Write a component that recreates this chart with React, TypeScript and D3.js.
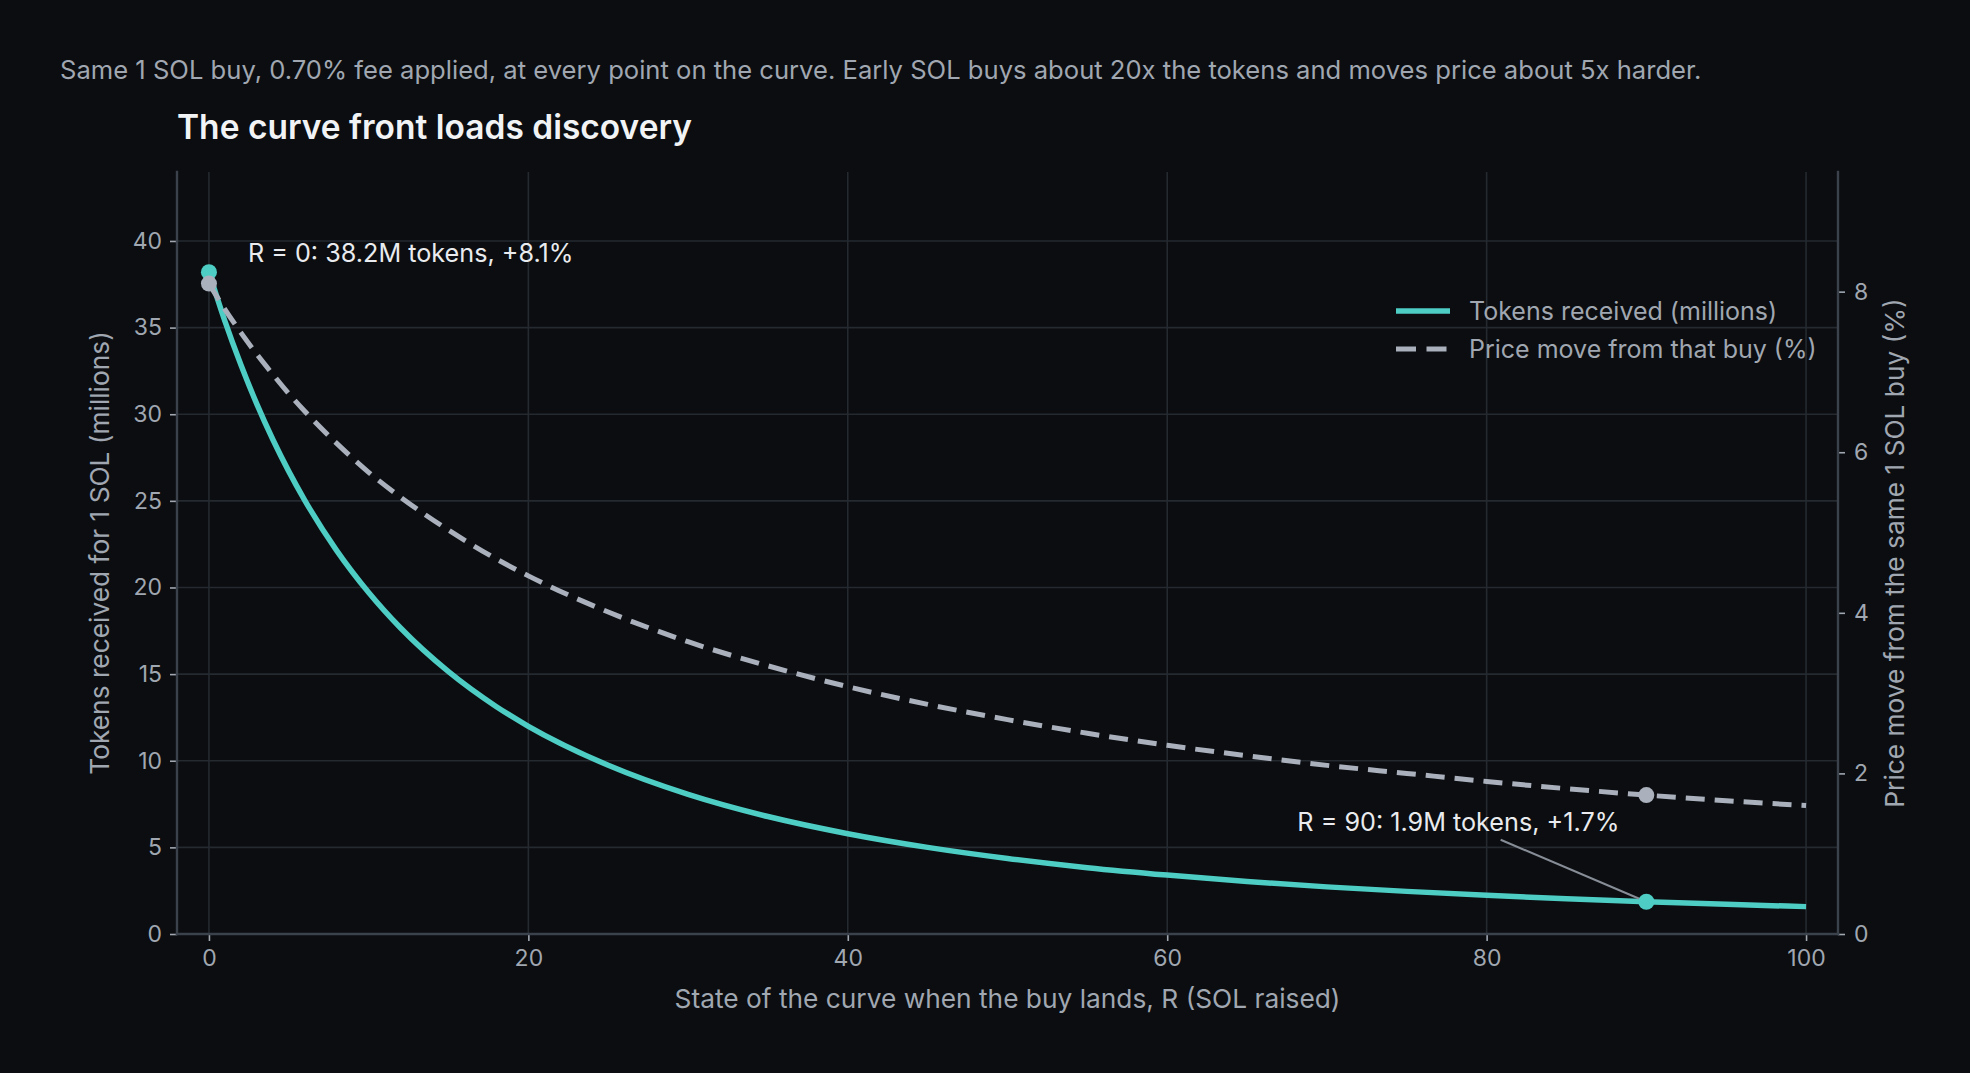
import React, { useEffect } from "react";
import * as d3 from "d3";

// R (SOL raised) where the 1 SOL buy lands
const rSol = [0, 1, 2, 3, 4, 5, 6, 8, 10, 12, 15, 18, 20, 25, 30, 35, 40, 45, 50, 55, 60, 65, 70, 75, 80, 85, 90, 95, 100];
// tokens received for 1 SOL, millions
const tokensMillions = [
  38.2, 35.37, 32.85, 30.58, 28.54, 26.7, 25.03, 22.13, 19.71, 17.66, 15.14, 13.12, 11.99, 9.74, 8.06, 6.78, 5.79,
  5.0, 4.36, 3.83, 3.4, 3.03, 2.72, 2.46, 2.23, 2.03, 1.86, 1.71, 1.58,
];
// price move from that buy, %
const priceMovePct = [
  8.1, 7.78, 7.49, 7.22, 6.97, 6.73, 6.51, 6.11, 5.75, 5.44, 5.03, 4.67, 4.46, 4.01, 3.64, 3.34, 3.08, 2.86, 2.67,
  2.5, 2.35, 2.22, 2.1, 2.0, 1.9, 1.81, 1.73, 1.66, 1.6,
];

const highlightR = [0, 90];
const highlightLabels = ["R = 0: 38.2M tokens, +8.1%", "R = 90: 1.9M tokens, +1.7%"];

const xTicks = [0, 20, 40, 60, 80, 100];
const leftTicks = [0, 5, 10, 15, 20, 25, 30, 35, 40];
const rightTicks = [0, 2, 4, 6, 8];

const legendLabels = ["Tokens received (millions)", "Price move from that buy (%)"];

const subtitle =
  "Same 1 SOL buy, 0.70% fee applied, at every point on the curve. Early SOL buys about 20x the tokens and moves price about 5x harder.";
const title = "The curve front loads discovery";
const xLabel = "State of the curve when the buy lands, R (SOL raised)";
const leftLabel = "Tokens received for 1 SOL (millions)";
const rightLabel = "Price move from the same 1 SOL buy (%)";

const W = 1970,
  H = 1073;
const BG = "#0b0d10";
const TEAL = "#4ecdc4";
const GREY = "#aab1bd";
const GRID = "#252a30";
const SPINE = "#3b424b";
const MUTED = "#a0a7b1";
const FONT = "Inter, 'Noto Sans', sans-serif";

function createChart(container: string) {
  d3.select(container).select("svg").remove();
  const margin = { top: 172, right: W - 1838, bottom: H - 934, left: 177 };
  const width = W - margin.left - margin.right,
    height = H - margin.top - margin.bottom;

  const root = d3
    .select(container)
    .append("svg")
    .attr("width", W)
    .attr("height", H)
    .style("display", "block")
    .style("background", BG)
    .style("font-family", FONT);

  root.append("rect").attr("width", W).attr("height", H).attr("fill", BG);

  root
    .append("text")
    .attr("x", 60)
    .attr("y", 79)
    .attr("fill", MUTED)
    .style("font-size", "25.6px")
    .text(subtitle);

  root
    .append("text")
    .attr("x", 177)
    .attr("y", 139)
    .attr("fill", "#f1f3f5")
    .style("font-size", "33.5px")
    .style("font-weight", 600)
    .text(title);

  const svg = root.append("g").attr("transform", `translate(${margin.left},${margin.top})`);

  const x = d3.scaleLinear().domain([-2, 102]).range([0, width]);
  const yL = d3.scaleLinear().domain([0, 43.98]).range([height, 0]);
  const yR = d3.scaleLinear().domain([0, 9.49]).range([height, 0]);

  // grid
  svg
    .append("g")
    .selectAll("line")
    .data(xTicks)
    .join("line")
    .attr("x1", (d) => x(d))
    .attr("x2", (d) => x(d))
    .attr("y1", 0)
    .attr("y2", height)
    .attr("stroke", GRID)
    .attr("stroke-width", 1.6);
  svg
    .append("g")
    .selectAll("line")
    .data(leftTicks)
    .join("line")
    .attr("x1", 0)
    .attr("x2", width)
    .attr("y1", (d) => yL(d))
    .attr("y2", (d) => yL(d))
    .attr("stroke", GRID)
    .attr("stroke-width", 1.6);

  // axes
  const styleAxis = (g: any) => {
    g.select(".domain").remove();
    g.selectAll(".tick line").attr("stroke", MUTED).attr("stroke-width", 1.6);
    g.selectAll(".tick text").attr("fill", MUTED).style("font-size", "23px").style("font-family", FONT);
  };
  svg
    .append("g")
    .attr("transform", `translate(0,${height})`)
    .call(d3.axisBottom(x).tickValues(xTicks).tickSize(7).tickPadding(9))
    .call(styleAxis);
  svg
    .append("g")
    .call(d3.axisLeft(yL).tickValues(leftTicks).tickSize(7).tickPadding(8))
    .call(styleAxis);
  svg
    .append("g")
    .attr("transform", `translate(${width},0)`)
    .call(d3.axisRight(yR).tickValues(rightTicks).tickSize(7).tickPadding(9))
    .call(styleAxis);

  // spines
  const spine = (x1: number, y1: number, x2: number, y2: number) =>
    svg
      .append("line")
      .attr("x1", x1)
      .attr("y1", y1)
      .attr("x2", x2)
      .attr("y2", y2)
      .attr("stroke", SPINE)
      .attr("stroke-width", 2.4)
      .attr("stroke-linecap", "square");
  spine(0, 0, 0, height);
  spine(width, 0, width, height);
  spine(0, height, width, height);

  // axis labels
  svg
    .append("text")
    .attr("x", width / 2)
    .attr("y", height + 74)
    .attr("fill", MUTED)
    .style("font-size", "26.3px")
    .style("text-anchor", "middle")
    .text(xLabel);
  svg
    .append("text")
    .attr("transform", `translate(${100 - margin.left},${height / 2}) rotate(-90)`)
    .attr("dy", "0.35em")
    .attr("fill", MUTED)
    .style("font-size", "26.3px")
    .style("text-anchor", "middle")
    .text(leftLabel);
  svg
    .append("text")
    .attr("transform", `translate(${1895 - margin.left},${height / 2}) rotate(-90)`)
    .attr("dy", "0.35em")
    .attr("fill", MUTED)
    .style("font-size", "26.3px")
    .style("text-anchor", "middle")
    .text(rightLabel);

  // tokens line
  const lineL = d3
    .line<number>()
    .x((d, i) => x(rSol[i]))
    .y((d) => yL(d))
    .curve(d3.curveMonotoneX);
  svg
    .append("path")
    .attr("d", lineL(tokensMillions))
    .attr("fill", "none")
    .attr("stroke", TEAL)
    .attr("stroke-width", 5.5);

  const idx = highlightR.map((r) => rSol.indexOf(r));

  // annotation connector goes under the marker
  const connector = svg.append("line").attr("stroke", "#878d96").attr("stroke-width", 2);

  svg
    .append("g")
    .selectAll("circle")
    .data(idx)
    .join("circle")
    .attr("cx", (i) => x(rSol[i]))
    .attr("cy", (i) => yL(tokensMillions[i]))
    .attr("r", 8)
    .attr("fill", TEAL);

  // annotations
  const p0 = [x(rSol[idx[0]]), yL(tokensMillions[idx[0]])];
  svg
    .append("text")
    .attr("x", p0[0] + 39)
    .attr("y", p0[1] - 19)
    .attr("dy", "0.35em")
    .attr("fill", "#e9ebee")
    .style("font-size", "25.2px")
    .text(highlightLabels[0]);

  const p1 = [x(rSol[idx[1]]), yL(tokensMillions[idx[1]])];
  const t1 = svg
    .append("text")
    .attr("x", p1[0] - 349)
    .attr("y", p1[1] - 71)
    .attr("fill", "#e9ebee")
    .style("font-size", "25.2px")
    .text(highlightLabels[1]);
  let bb = { x: p1[0] - 349, y: p1[1] - 100, width: 320, height: 30 };
  try {
    bb = (t1.node() as SVGTextElement).getBBox();
  } catch (e) {}
  const cx = bb.x + bb.width / 2,
    cy = bb.y + bb.height / 2;
  const bottom = bb.y + bb.height + 3;
  const t = (bottom - cy) / (p1[1] - cy);
  const sx = cx + (p1[0] - cx) * t;
  const dxl = p1[0] - sx,
    dyl = p1[1] - bottom,
    len = Math.hypot(dxl, dyl);
  const shrink = 7;
  connector
    .attr("x1", sx)
    .attr("y1", bottom)
    .attr("x2", p1[0] - (dxl / len) * shrink)
    .attr("y2", p1[1] - (dyl / len) * shrink);

  // price line (twin axis, drawn on top)
  const lineR = d3
    .line<number>()
    .x((d, i) => x(rSol[i]))
    .y((d) => yR(d))
    .curve(d3.curveMonotoneX);
  svg
    .append("path")
    .attr("d", lineR(priceMovePct))
    .attr("fill", "none")
    .attr("stroke", GREY)
    .attr("stroke-width", 5)
    .attr("stroke-dasharray", "19,10");
  svg
    .append("g")
    .selectAll("circle")
    .data(idx)
    .join("circle")
    .attr("cx", (i) => x(rSol[i]))
    .attr("cy", (i) => yR(priceMovePct[i]))
    .attr("r", 8)
    .attr("fill", GREY);

  // legend
  const legend = root.append("g").attr("transform", "translate(1396,311)");
  legendLabels.forEach((label, i) => {
    const row = legend.append("g").attr("transform", `translate(0,${i * 38})`);
    row
      .append("line")
      .attr("x1", 0)
      .attr("x2", 54)
      .attr("y1", 0)
      .attr("y2", 0)
      .attr("stroke", i === 0 ? TEAL : GREY)
      .attr("stroke-width", i === 0 ? 5.5 : 5)
      .attr("stroke-dasharray", i === 0 ? null : "20,10.5");
    row
      .append("text")
      .attr("x", 73)
      .attr("y", 0)
      .attr("dy", "0.35em")
      .attr("fill", MUTED)
      .style("font-size", "25px")
      .text(label);
  });
}

export default function App() {
  useEffect(() => {
    document.body.style.margin = "0";
    document.body.style.background = BG;
    createChart("#chart1");
  }, []);

  return (
    <div>
      <div id="chart1"></div>
    </div>
  );
}
